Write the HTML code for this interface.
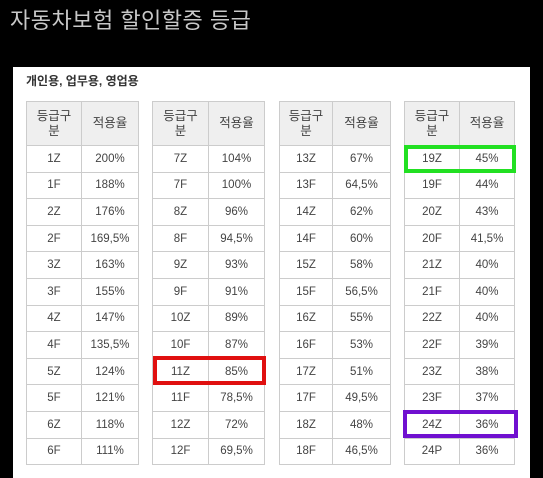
<!DOCTYPE html>
<html><head><meta charset="utf-8"><style>
body{margin:0;width:543px;height:478px;background:#000;position:relative;overflow:hidden;font-family:"Liberation Sans","Noto Sans CJK KR","NanumGothic",sans-serif}
.title{position:absolute;left:10px;top:3px;font-size:22px;color:#c8c8c8;letter-spacing:0.5px}
.panel{position:absolute;left:13px;top:67px;width:517px;height:411px;background:#fff}
.sub{position:absolute;left:26px;top:72px;font-size:12px;font-weight:bold;color:#333}
table{position:absolute;top:101px;border-collapse:collapse;font-size:11.5px;color:#444}
td{border:1px solid #ccc;text-align:center;height:25.6px;padding:0}
th{border:1px solid #ccc;background:#efefef;font-weight:normal;height:43px;padding:0;line-height:15px;font-size:12.5px;color:#444}
.box{position:absolute;border:4px solid;box-sizing:border-box}
</style></head><body>
<div class="title">자동차보험 할인할증 등급</div>
<div class="panel"></div>
<div class="sub">개인용, 업무용, 영업용</div>
<div id="tables"></div>
<div class="box" style="left:153px;top:356px;width:113px;height:29px;border-color:#e01010"></div>
<div class="box" style="left:404px;top:145px;width:112px;height:28px;border-color:#22e022"></div>
<div class="box" style="left:403px;top:410px;width:115px;height:28px;border-color:#7010d0"></div>
<script>
const grades=[["1Z","1F","2Z","2F","3Z","3F","4Z","4F","5Z","5F","6Z","6F"],["7Z","7F","8Z","8F","9Z","9F","10Z","10F","11Z","11F","12Z","12F"],["13Z","13F","14Z","14F","15Z","15F","16Z","16F","17Z","17F","18Z","18F"],["19Z","19F","20Z","20F","21Z","21F","22Z","22F","23Z","23F","24Z","24P"]];
const rates=[["200%","188%","176%","169,5%","163%","155%","147%","135,5%","124%","121%","118%","111%"],["104%","100%","96%","94,5%","93%","91%","89%","87%","85%","78,5%","72%","69,5%"],["67%","64,5%","62%","60%","58%","56,5%","55%","53%","51%","49,5%","48%","46,5%"],["45%","44%","43%","41,5%","40%","40%","40%","39%","38%","37%","36%","36%"]];
const lefts=[26,152,279,404],w1=[54,55,52,54],w2=[56,55,57,54];
const c=document.getElementById('tables');
grades.forEach((g,t)=>{
 const tb=document.createElement('table');
 
 
 tb.style.left=lefts[t]+'px';
 let h=`<tr><th style="width:${w1[t]}px">등급구<br>분</th><th style="width:${w2[t]}px">적용율</th></tr>`;
 g.forEach((x,i)=>{h+=`<tr><td>${x}</td><td>${rates[t][i]}</td></tr>`;});
 tb.innerHTML=h;
 c.appendChild(tb);
});
</script>
</body></html>
